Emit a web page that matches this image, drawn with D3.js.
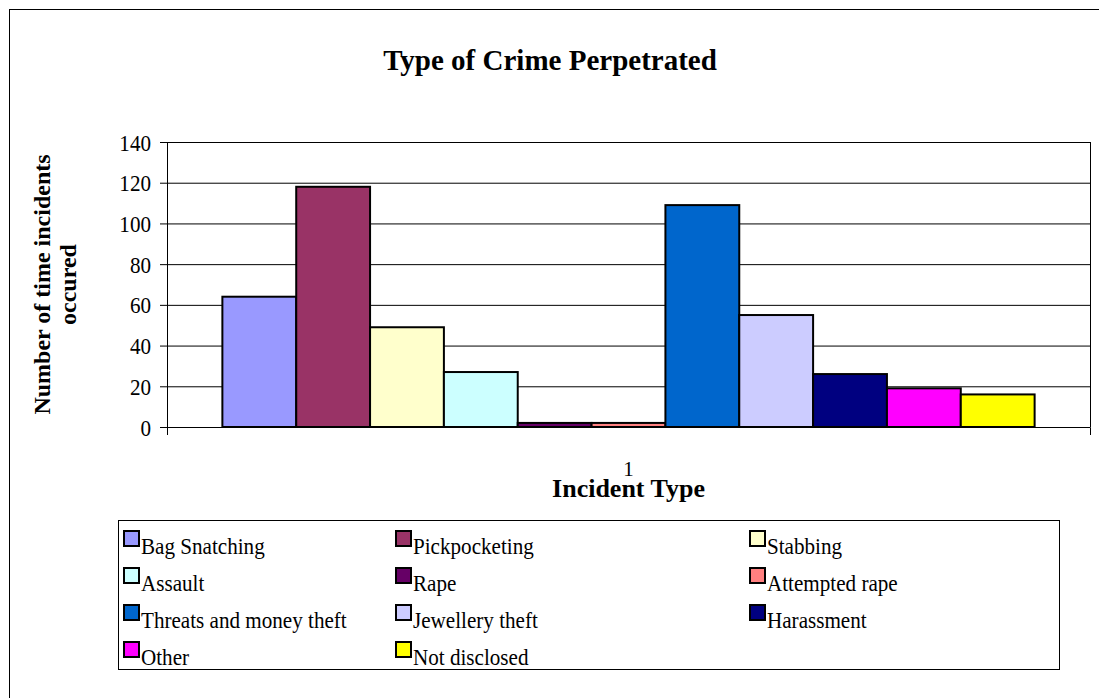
<!DOCTYPE html>
<html>
<head>
<meta charset="utf-8">
<script src="https://cdn.jsdelivr.net/npm/d3@7"></script>
<style>
  body { margin: 0; background: #fff; }
  text { font-family: "Liberation Serif", "Times New Roman", serif; fill: #000; }
</style>
</head>
<body>
<div id="chart"></div>
<script>
// data
const crimes = ["Bag Snatching", "Pickpocketing", "Stabbing", "Assault", "Rape", "Attempted rape",
  "Threats and money theft", "Jewellery theft", "Harassment", "Other", "Not disclosed"];
const counts = [64, 118, 49, 27, 2, 2, 109, 55, 26, 19, 16];
const barColors = ["#9999FF", "#993366", "#FFFFCC", "#CCFFFF", "#660066", "#FF8080",
  "#0066CC", "#CCCCFF", "#000080", "#FF00FF", "#FFFF00"];
const categories = ["1"];
const yTicks = [0, 20, 40, 60, 80, 100, 120, 140];

const W = 1099, H = 698;
const margin = {top: 142, right: 9, bottom: 271, left: 167};
const width = W - margin.left - margin.right,
    height = H - margin.top - margin.bottom;

const svg = d3.select("#chart").append("svg")
    .attr("width", W).attr("height", H);

// outer chart border (only top/left show)
svg.append("rect")
    .attr("x", 9.5).attr("y", 9.5)
    .attr("width", 1200).attr("height", 800)
    .attr("fill", "none").attr("stroke", "#000").attr("stroke-width", 1);

svg.append("text")
    .attr("x", 550).attr("y", 70)
    .attr("text-anchor", "middle")
    .style("font-size", "29px").style("font-weight", "bold")
    .text("Type of Crime Perpetrated");

const g = svg.append("g")
    .attr("transform", `translate(${margin.left},${margin.top})`);

const y = d3.scaleLinear().domain([0, 140]).range([height, 0]);
const x0 = d3.scaleBand().domain(categories).range([0, width]);
const x1 = d3.scaleBand().domain(crimes).range([0, x0.bandwidth()]).paddingOuter(0.75);
const color = d3.scaleOrdinal().domain(crimes).range(barColors);

// gridlines
g.append("g")
    .call(d3.axisLeft(y).tickValues(yTicks).tickSize(-width).tickFormat(""))
    .call(a => a.select(".domain").remove())
    .selectAll("line").attr("stroke", "#000").attr("stroke-width", 1);

// right plot border
g.append("line")
    .attr("x1", width + 0.5).attr("x2", width + 0.5)
    .attr("y1", 0).attr("y2", height)
    .attr("stroke", "#000");

// bars
g.append("g").selectAll("rect")
    .data(crimes)
    .join("rect")
    .attr("x", d => x0("1") + x1(d))
    .attr("y", (d, i) => y(counts[i]))
    .attr("width", x1.bandwidth())
    .attr("height", (d, i) => y(0) - y(counts[i]))
    .attr("fill", d => color(d))
    .attr("stroke", "#000")
    .attr("stroke-width", 2);

// y axis
const yAxis = g.append("g")
    .call(d3.axisLeft(y).tickValues(yTicks).tickSizeInner(7).tickSizeOuter(0).tickPadding(0));
yAxis.selectAll("line, path").attr("stroke", "#000");
// tick text a bit tall and narrow like the original
yAxis.selectAll("text")
    .attr("x", null).attr("dy", null)
    .attr("transform", "translate(-16,8) scale(0.88,1)")
    .style("font-size", "24px");

// x axis
const xAxis = g.append("g")
    .attr("transform", `translate(0,${height})`)
    .call(d3.axisBottom(x0).tickSizeInner(0).tickSizeOuter(8).tickPadding(34));
xAxis.selectAll("text").style("font-size", "21px");
xAxis.selectAll("path").attr("stroke", "#000");

svg.append("text")
    .attr("x", margin.left + width / 2).attr("y", 497)
    .attr("text-anchor", "middle")
    .style("font-size", "26px").style("font-weight", "bold")
    .text("Incident Type");

// y axis title
const yt = svg.append("text")
    .attr("transform", `translate(0,${margin.top + height / 2}) rotate(-90)`)
    .attr("text-anchor", "middle")
    .style("font-size", "24px").style("font-weight", "bold");
yt.append("tspan").attr("x", 0).attr("y", 50).text("Number of time incidents");
yt.append("tspan").attr("x", 0).attr("y", 76).text("occured");

// legend
const legend = svg.append("g");
legend.append("rect")
    .attr("x", 118.5).attr("y", 520.5)
    .attr("width", 941).attr("height", 149)
    .attr("fill", "none").attr("stroke", "#000");

const colX = [123, 395, 749];
const items = legend.selectAll("g.item")
    .data(crimes)
    .join("g")
    .attr("class", "item")
    .attr("transform", (d, i) => `translate(${colX[i % 3]},${539 + Math.floor(i / 3) * 37})`);
items.append("rect")
    .attr("x", 1).attr("y", -8)
    .attr("width", 15).attr("height", 15)
    .attr("fill", d => color(d))
    .attr("stroke", "#000").attr("stroke-width", 2);
items.append("text")
    .attr("transform", "translate(18,15) scale(0.88,1)")
    .style("font-size", "24px")
    .text(d => d);
</script>
</body>
</html>
